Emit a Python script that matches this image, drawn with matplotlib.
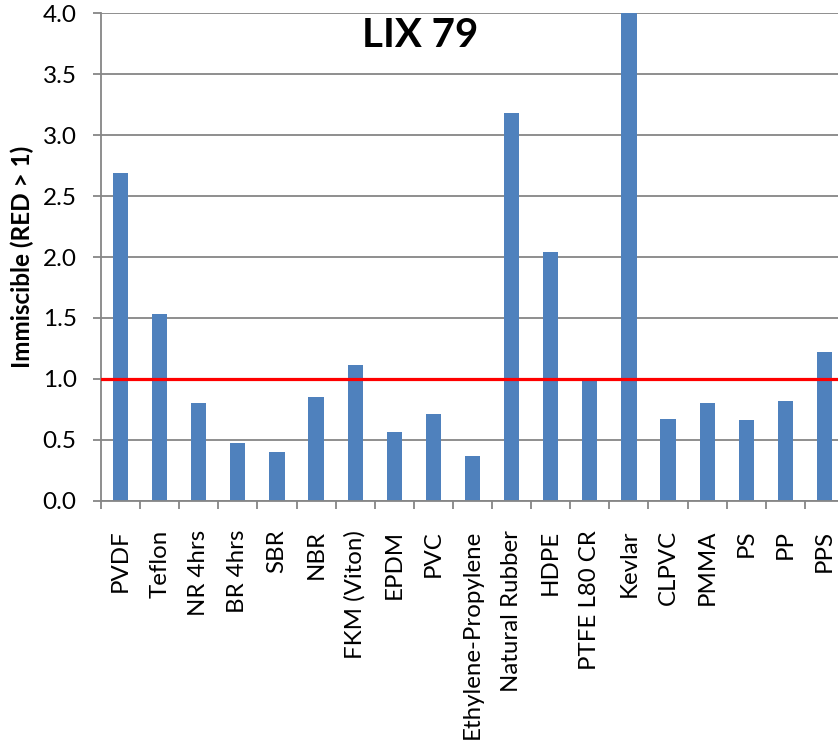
import numpy as np
import matplotlib
matplotlib.use("Agg")
import matplotlib.pyplot as plt
from matplotlib.ticker import FixedLocator, MultipleLocator, FormatStrFormatter

plt.rcParams['font.family'] = ['Lato', 'DejaVu Sans']

# data
materials = ["PVDF", "Teflon", "NR 4hrs", "BR 4hrs", "SBR", "NBR", "FKM (Viton)",
             "EPDM", "PVC", "Ethylene-Propylene", "Natural Rubber", "HDPE",
             "PTFE L80 CR", "Kevlar", "CLPVC", "PMMA", "PS", "PP", "PPS"]
red_values = [2.69, 1.53, 0.80, 0.47, 0.40, 0.85, 1.11, 0.56, 0.71, 0.37,
              3.18, 2.04, 1.00, 4.00, 0.67, 0.80, 0.66, 0.82, 1.22]
threshold = 1.0
title = "LIX 79"
ylabel = "Immiscible (RED > 1)"

bar_color = '#4F81BD'
grid_color = '#868686'

fig = plt.figure(figsize=(8.38, 7.40), dpi=100)
# axes runs a bit past the right edge, like the reference crop
ax = fig.add_axes([101 / 838, 239.3 / 740, 743 / 838, 487.4 / 740])

x = np.arange(len(materials))
ax.bar(x, red_values, width=0.39, color=bar_color, zorder=2)
ax.axhline(threshold, color='#FF0000', linewidth=2.3, zorder=3)

ax.set_xlim(-0.5, len(materials) - 0.5)
ax.set_ylim(0, 4.0)

# y axis
ax.yaxis.set_major_locator(MultipleLocator(0.5))
ax.yaxis.set_major_formatter(FormatStrFormatter('%.1f'))
ax.grid(axis='y', color=grid_color, linewidth=1.3, zorder=0)
ax.tick_params(axis='y', direction='out', length=5.5, width=1.3, color=grid_color,
               labelsize=17.5, pad=12)
ax.set_ylabel(ylabel, fontsize=17.5, fontweight='bold', labelpad=6)

# x axis: labels at centres, tick marks at category boundaries
ax.set_xticks(x)
ax.set_xticklabels(materials, rotation=90, fontsize=17.3)
ax.tick_params(axis='x', which='major', length=0, pad=21)
ax.xaxis.set_minor_locator(FixedLocator(np.arange(-0.5, len(materials), 1.0)))
ax.tick_params(axis='x', which='minor', direction='out', length=5.5, width=1.3,
               color=grid_color)

for side in ['top', 'right']:
    ax.spines[side].set_visible(False)
for side in ['left', 'bottom']:
    ax.spines[side].set_color(grid_color)
    ax.spines[side].set_linewidth(1.3)

ax.text(0.43, 0.955, title, transform=ax.transAxes, fontsize=29,
        fontweight='bold', ha='center', va='center', zorder=4)

fig.savefig("out.png", dpi=100)
